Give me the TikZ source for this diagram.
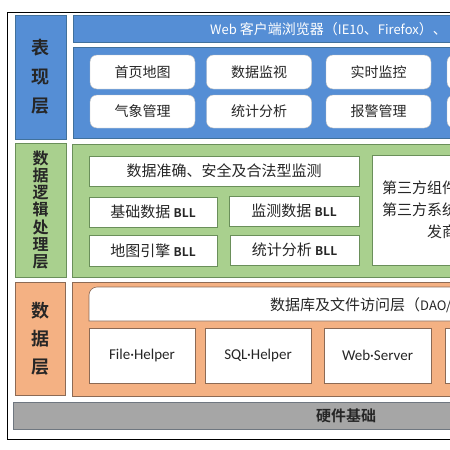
\documentclass[tikz,border=0pt]{standalone}
\usepackage{fontspec}
\newfontfamily\cjk{Noto Sans CJK SC}[BoldFont={Noto Sans CJK SC Bold}]
\newfontfamily\calibri{Carlito}
\definecolor{viewblue}{HTML}{558ED5}
\definecolor{viewline}{HTML}{41719C}
\definecolor{logicgreen}{HTML}{A9D08E}
\definecolor{logicline}{HTML}{6A8F5A}
\definecolor{dataorange}{HTML}{F4B183}
\definecolor{dataline}{HTML}{8C6A55}
\definecolor{basegray}{HTML}{A6A6A6}
\definecolor{baseline}{HTML}{6F7780}
\newcommand{\bll}{{\bfseries\fontsize{12}{14}\selectfont BLL}}
\newcommand{\lat}[1]{{\fontsize{13}{15}\selectfont #1}}
\begin{document}
\begin{tikzpicture}[x=1pt, y=-1pt]
  \tikzset{every node/.style={font=\cjk\fontsize{14}{16}\selectfont, inner sep=0pt, text=black!85}}
  \tikzset{
    tier/.style={draw=#1, line width=0.8pt},
    sidelabel/.style={draw=#1, line width=0.8pt, align=center, minimum width=51pt,
      font=\cjk\bfseries\fontsize{18}{29}\selectfont},
    btn/.style={fill=white, draw=gray!50, line width=0.4pt, rounded corners=7pt,
      minimum width=105pt, minimum height=34pt},
    bll/.style={fill=white, draw=logicline, line width=0.6pt, minimum height=30pt,
      font=\cjk\fontsize{15}{17}\selectfont},
    helper/.style={fill=white, draw=dataline, line width=0.6pt, minimum width=106pt,
      minimum height=55pt, font=\calibri\fontsize{15}{17}\selectfont}}
  \clip (0,0) rectangle (450,450);
  \fill[white] (0,0) rectangle (450,450);
  \draw[line width=0.8pt] (7,12) rectangle (480,439);

  % presentation tier
  \node[sidelabel=viewline, fill=viewblue, minimum height=124pt] (viewlabel) at (40.5,77) {表\\现\\层};
  \draw[tier=viewline, fill=viewblue] (73,15) rectangle (480,42);
  \node[anchor=west, text=white, font=\cjk\fontsize{14}{16}\selectfont] (browser) at (210,29)
    {\lat{Web} 客户端浏览器（\lat{IE10}、\lat{Firefox}）、};
  \draw[tier=viewline, fill=viewblue] (73,47) rectangle (480,138);
  \node[btn] (homemap) at (142.5,72) {首页地图};
  \node[btn] (watch) at (259,72) {数据监视};
  \node[btn] (realtime) at (378.5,72) {实时监控};
  \node[btn] (moreA) at (499.5,72) {};
  \node[btn, minimum height=33pt] (weather) at (142.5,111.5) {气象管理};
  \node[btn, minimum height=33pt] (stats) at (259,111.5) {统计分析};
  \node[btn, minimum height=33pt] (alarm) at (378.5,111.5) {报警管理};
  \node[btn, minimum height=33pt] (moreB) at (499.5,111.5) {};

  % logic tier
  \draw[tier=logicline, fill=logicgreen] (72,144) rectangle (480,277);
  \node[sidelabel=logicline, fill=logicgreen, minimum height=134pt,
    font=\cjk\bfseries\fontsize{16}{17.2}\selectfont] (logiclabel) at (40.5,210) {数\\据\\逻\\辑\\处\\理\\层};
  \node[bll, minimum width=270pt] (check) at (224,171) {数据准确、安全及合法型监测};
  \node[bll, minimum width=128pt] (basebll) at (153,212) {基础数据 \bll};
  \node[bll, minimum width=130pt] (monitorbll) at (294,211) {监测数据 \bll};
  \node[bll, minimum width=128pt, minimum height=31pt] (mapbll) at (153,250.5) {地图引擎 \bll};
  \node[bll, minimum width=129pt] (statbll) at (294.5,250) {统计分析 \bll};
  \node[bll, minimum width=108pt, minimum height=110pt] (third) at (426,210) {};
  \node[anchor=west, font=\cjk\fontsize{15}{17}\selectfont] (thirdA) at (382,188) {第三方组件};
  \node[anchor=west, font=\cjk\fontsize{15}{17}\selectfont] (thirdB) at (382,210) {第三方系统};
  \node[anchor=west, font=\cjk\fontsize{15}{17}\selectfont] (thirdC) at (427,232) {发商};

  % data tier
  \draw[tier=dataline, fill=dataorange] (72,282) rectangle (480,396);
  \node[sidelabel=dataline, fill=dataorange, minimum width=50pt, minimum height=113pt,
    font=\cjk\bfseries\fontsize{18}{28}\selectfont] (datalabel) at (40,338.5) {数\\据\\层};
  \draw[fill=white, draw=dataline, line width=0.6pt] (89,321) [rounded corners=8pt] -- (89,287)
    [sharp corners] -- (480,287) -- (480,321) -- cycle;
  \node[anchor=west, font=\cjk\fontsize{15}{17}\selectfont] (dao) at (270,305) {数据库及文件访问层（\lat{DAO/}};
  \node[helper] (filehelper) at (142,355.5) {File·Helper};
  \node[helper] (sqlhelper) at (258,355.5) {SQL·Helper};
  \node[helper, minimum width=107pt] (webserver) at (377.5,355.5) {Web·Server};
  \node[helper] (morehelper) at (498,355.5) {};

  % hardware
  \node[fill=basegray, draw=baseline, line width=0.8pt, minimum width=666pt, minimum height=27pt,
    font=\cjk\bfseries\fontsize{15}{17}\selectfont] (hardware) at (346,415.5) {硬件基础};
\end{tikzpicture}
\end{document}
